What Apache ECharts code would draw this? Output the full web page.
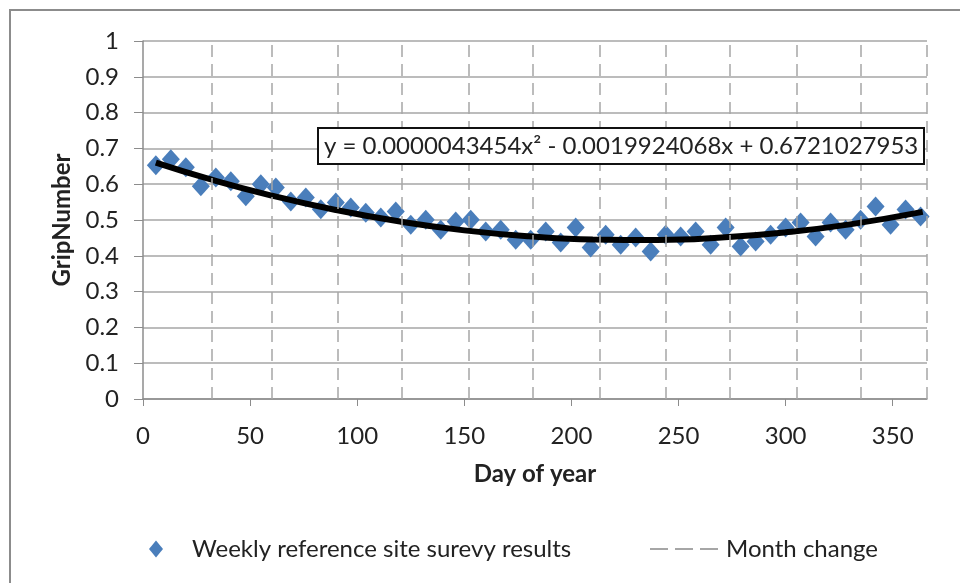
<!DOCTYPE html>
<html><head><meta charset="utf-8">
<script src="https://cdn.jsdelivr.net/npm/echarts@6/dist/echarts.min.js"></script>
<style>html,body{margin:0;padding:0;background:#fff;}#c{width:960px;height:583px;}</style>
</head><body><div id="c"></div>
<script>
// Weekly survey days and grip numbers
const days = [6,13,20,27,34,41,48,55,62,69,76,83,90,97,104,111,118,125,132,139,146,153,160,167,174,181,188,195,202,209,216,223,230,237,244,251,258,265,272,279,286,293,300,307,314,321,328,335,342,349,356,363];
const grip = [0.653,0.67,0.647,0.594,0.619,0.608,0.566,0.60,0.591,0.552,0.563,0.53,0.549,0.535,0.52,0.507,0.524,0.487,0.501,0.473,0.496,0.501,0.468,0.473,0.445,0.445,0.468,0.437,0.479,0.423,0.459,0.431,0.451,0.412,0.459,0.454,0.468,0.431,0.479,0.426,0.44,0.459,0.479,0.493,0.454,0.493,0.473,0.501,0.538,0.487,0.529,0.51];
// Trendline values read from the shown equation
const trendDays = [6,30,60,90,120,150,180,210,240,270,300,330,364];
const trendVals = [0.6603,0.6162,0.5682,0.5280,0.4956,0.4710,0.4543,0.4453,0.4442,0.4509,0.4655,0.4878,0.5226];
// Month change days (first day of each month)
const monthDays = [32,60,91,121,152,182,213,244,274,305,335,366];
const yTicks = [0,0.1,0.2,0.3,0.4,0.5,0.6,0.7,0.8,0.9,1];
const equation = 'y = 0.0000043454x\u00B2 - 0.0019924068x + 0.6721027953';

const FONT = 'Lato';
const FS = 24;
const chart = echarts.init(document.getElementById('c'), null, {renderer:'canvas'});
chart.setOption({
  animation:false,
  backgroundColor:'#fff',
  textStyle:{fontFamily:FONT},
  graphic:[{type:'rect',shape:{x:10,y:10,width:1200,height:1200},style:{fill:'none',stroke:'#8c8c8c',lineWidth:2},z:-1}],
  title:{text:equation,left:318,top:128,padding:[6,6,6,6],borderColor:'#111',borderWidth:2,backgroundColor:'#fff',
    textStyle:{fontFamily:FONT,fontSize:FS,fontWeight:'normal',color:'#222'},z:10},
  grid:{left:143,right:33,top:41,bottom:184},
  legend:[
    {left:144,top:532,itemWidth:14,itemHeight:17,data:[{name:'Weekly reference site surevy results',icon:'diamond'}],
     textStyle:{fontFamily:FONT,fontSize:FS,color:'#222',padding:[0,0,0,24]}},
    {left:645,top:532,itemWidth:68,itemHeight:2,
     data:[{name:'Month change',icon:'path://M0,0h18v2h-18zM25,0h18v2h-18zM50,0h18v2h-18z',itemStyle:{color:'#a6a6a6'}}],
     textStyle:{fontFamily:FONT,fontSize:FS,color:'#222',padding:[0,0,0,3]}}
  ],
  xAxis:{type:'value',min:0,max:366,interval:50,
    name:'Day of year',nameLocation:'middle',nameGap:63,
    nameTextStyle:{fontFamily:FONT,fontSize:FS,fontWeight:'bold',color:'#222'},
    axisLine:{lineStyle:{color:'#8c8c8c',width:1.5}},
    axisTick:{show:true,length:7,lineStyle:{color:'#8c8c8c'}},
    axisLabel:{fontFamily:FONT,fontSize:FS,color:'#222',margin:25,showMaxLabel:false},
    splitLine:{show:false}},
  yAxis:{type:'value',min:0,max:1,interval:0.1,
    name:'GripNumber',nameLocation:'middle',nameGap:69,nameRotate:90,
    nameTextStyle:{fontFamily:FONT,fontSize:FS,fontWeight:'bold',color:'#222'},
    axisLine:{show:true,lineStyle:{color:'#8c8c8c',width:1.5}},
    axisTick:{show:true,length:9,lineStyle:{color:'#8c8c8c'}},
    axisLabel:{fontFamily:FONT,fontSize:FS,color:'#222',margin:24,
      formatter:v=>{const t=yTicks.find(k=>Math.abs(k-v)<1e-6);return t===undefined?'':String(t);}},
    splitLine:{show:true,lineStyle:{color:'#a6a6a6',width:1.5}}},
  series:[
    {name:'Month change',type:'line',data:[],symbol:'none',
     itemStyle:{color:'#a6a6a6'},
     lineStyle:{color:'#a6a6a6',width:1.5,type:[12,7]},
     markLine:{silent:true,symbol:'none',label:{show:false},
       lineStyle:{color:'#a6a6a6',width:1.5,type:[12,7]},
       data:monthDays.map(d=>({xAxis:d}))},z:1},
    {name:'Weekly reference site surevy results',type:'scatter',symbol:'diamond',symbolSize:[18,20],
     itemStyle:{color:'#4a7ebb',opacity:1},data:days.map((d,i)=>[d,grip[i]]),z:2},
    {name:'Trend',type:'line',smooth:true,symbol:'none',lineStyle:{color:'#000',width:6},
     data:trendDays.map((d,i)=>[d,trendVals[i]]),z:3}
  ]
});
</script></body></html>
